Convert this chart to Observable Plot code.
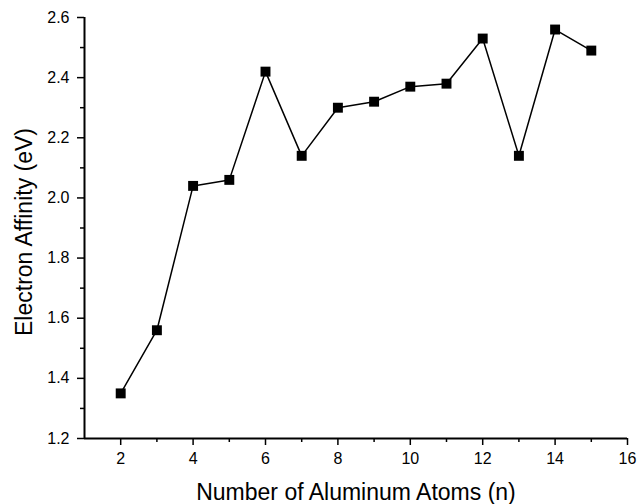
<!DOCTYPE html>
<html><head><meta charset="utf-8">
<script src="https://cdn.jsdelivr.net/npm/d3@7"></script>
<script src="https://cdn.jsdelivr.net/npm/@observablehq/plot@0.6"></script>
<style>body{margin:0;background:#fff} svg{display:block}</style>
</head><body><div id="chart"></div>
<script>
const atoms = [2, 3, 4, 5, 6, 7, 8, 9, 10, 11, 12, 13, 14, 15];
const affinity = [1.35, 1.56, 2.04, 2.06, 2.42, 2.14, 2.30, 2.32, 2.37, 2.38, 2.53, 2.14, 2.56, 2.49];
const xMajorTicks = [2, 4, 6, 8, 10, 12, 14, 16];
const xMinorTicks = [3, 5, 7, 9, 11, 13, 15];
const yMajorTicks = [1.2, 1.4, 1.6, 1.8, 2.0, 2.2, 2.4, 2.6];
const yMinorTicks = [1.3, 1.5, 1.7, 1.9, 2.1, 2.3, 2.5];
const xTitle = "Number of Aluminum Atoms (n)";
const yTitle = "Electron Affinity (eV)";

const data = atoms.map((n, i) => ({n, ea: affinity[i]}));

const chart = Plot.plot({
  width: 639, height: 504,
  marginLeft: 84, marginRight: 12, marginTop: 17, marginBottom: 66,
  style: {fontFamily: "'Liberation Sans', Arial, sans-serif", fontSize: "16px", color: "black", background: "white"},
  x: {domain: [1, 16]},
  y: {domain: [1.2, 2.6]},
  marks: [
    Plot.axisX(xMajorTicks, {tickSize: 7, tickPadding: 7, tickFormat: d => String(d), label: null, strokeWidth: 1.5, fontSize: 16}),
    Plot.axisX(xMinorTicks, {tickSize: 4, text: null, label: null, strokeWidth: 1.5}),
    Plot.axisY(yMajorTicks, {tickSize: 7, tickPadding: 8, tickFormat: d3.format(".1f"), label: null, strokeWidth: 1.5, fontSize: 16}),
    Plot.axisY(yMinorTicks, {tickSize: 4, text: null, label: null, strokeWidth: 1.5}),
    Plot.ruleY([1.2], {stroke: "black", strokeWidth: 2}),
    Plot.ruleX([1], {stroke: "black", strokeWidth: 2}),
    Plot.line(data, {x: "n", y: "ea", stroke: "black", strokeWidth: 1.5}),
    Plot.dot(data, {x: "n", y: "ea", symbol: "square", fill: "black", stroke: "none", r: 5.6}),
    Plot.text([xTitle], {text: d => d, frameAnchor: "bottom", lineAnchor: "bottom", textAnchor: "middle", dy: 61, fontSize: 23, fill: "black"}),
    Plot.text([yTitle], {text: d => d, frameAnchor: "left", lineAnchor: "bottom", textAnchor: "middle", rotate: -90, dx: -53, dy: 4, fontSize: 23, fill: "black"})
  ]
});
document.getElementById("chart").appendChild(chart);
</script>
</body></html>
